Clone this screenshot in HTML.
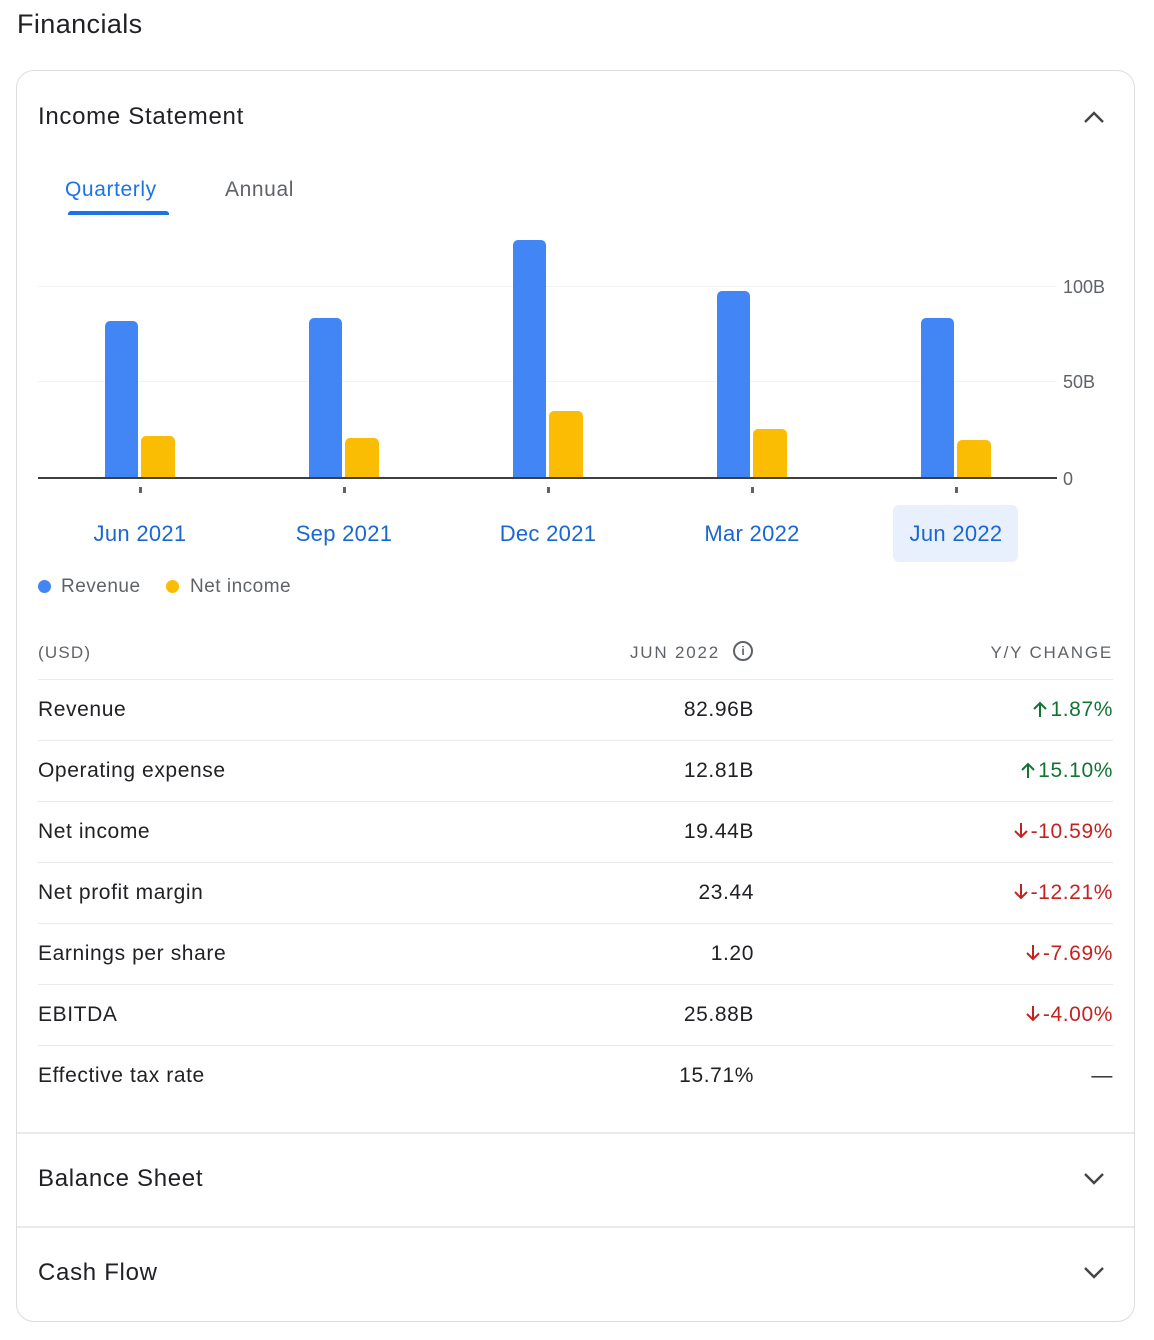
<!DOCTYPE html>
<html><head><style>
body{margin:0;width:1154px;height:1340px;background:#fff;font-family:"Liberation Sans",sans-serif;position:relative;overflow:hidden}
.a{position:absolute;white-space:nowrap}
.bar{position:absolute;border-radius:5px 5px 0 0}
.b{background:#4285f4;width:33px}
.y{background:#fbbc04;width:34px}
.xl{position:absolute;top:520px;width:160px;text-align:center;font-size:22px;color:#1967d2;line-height:28px;letter-spacing:0.3px}
.tk{position:absolute;top:487px;width:3px;height:6px;background:#5f6368}
.row{position:absolute;left:38px;width:1075px;height:61px;border-top:1px solid #e8eaed;font-size:21px;color:#202124;letter-spacing:0.6px}
.row .l{position:absolute;left:0;top:18px}
.row .v{position:absolute;right:359px;top:18px}
.row .c{position:absolute;right:0;top:18px}
.g{color:#137333}.r{color:#c5221f}
.c svg{vertical-align:-2px;margin-right:2px}
</style></head><body>
<div class="a" style="left:17px;top:9px;font-size:27px;color:#202124;letter-spacing:0.4px">Financials</div>
<div class="a" style="left:16px;top:70px;width:1117px;height:1250px;border:1px solid #dadce0;border-radius:18px"></div>
<div class="a" style="left:38px;top:103px;font-size:24px;color:#202124;letter-spacing:0.7px">Income Statement</div>
<svg class="a" style="left:1082px;top:108px" width="24" height="18"><path d="M3 14 L12 5 L21 14" fill="none" stroke="#444" stroke-width="2.4"/></svg>
<div class="a" style="left:65px;top:178px;font-size:21px;color:#1a73e8;letter-spacing:0.6px">Quarterly</div>
<div class="a" style="left:68px;top:211px;width:101px;height:4px;background:#1a73e8;border-radius:3px 3px 0 0"></div>
<div class="a" style="left:225px;top:178px;font-size:21px;color:#5f6368;letter-spacing:0.6px">Annual</div>
<div class="a" style="left:38px;top:286px;width:1019px;height:1px;background:#f1f3f4"></div>
<div class="a" style="left:38px;top:381px;width:1019px;height:1px;background:#f1f3f4"></div>
<div class="a" style="left:38px;top:477px;width:1019px;height:2px;background:#3c4043"></div>
<div class="a" style="left:1063px;top:277px;font-size:18px;color:#5f6368">100B</div>
<div class="a" style="left:1063px;top:372px;font-size:18px;color:#5f6368">50B</div>
<div class="a" style="left:1063px;top:469px;font-size:18px;color:#5f6368">0</div>
<div class="bar b" style="left:105px;top:321px;height:156px"></div><div class="bar y" style="left:141px;top:436px;height:41px"></div>
<div class="bar b" style="left:309px;top:318px;height:159px"></div><div class="bar y" style="left:345px;top:438px;height:39px"></div>
<div class="bar b" style="left:513px;top:240px;height:237px"></div><div class="bar y" style="left:549px;top:411px;height:66px"></div>
<div class="bar b" style="left:717px;top:291px;height:186px"></div><div class="bar y" style="left:753px;top:429px;height:48px"></div>
<div class="bar b" style="left:921px;top:318px;height:159px"></div><div class="bar y" style="left:957px;top:440px;height:37px"></div>
<div class="tk" style="left:139px"></div><div class="tk" style="left:343px"></div><div class="tk" style="left:547px"></div><div class="tk" style="left:751px"></div><div class="tk" style="left:955px"></div>
<div class="a" style="left:893px;top:505px;width:125px;height:57px;background:#e8f0fe;border-radius:6px"></div>
<div class="xl" style="left:60px">Jun 2021</div><div class="xl" style="left:264px">Sep 2021</div><div class="xl" style="left:468px">Dec 2021</div><div class="xl" style="left:672px">Mar 2022</div><div class="xl" style="left:876px">Jun 2022</div>
<div class="a" style="left:38px;top:580px;width:13px;height:13px;border-radius:50%;background:#4285f4"></div>
<div class="a" style="left:61px;top:576px;font-size:19px;color:#5f6368;letter-spacing:0.5px">Revenue</div>
<div class="a" style="left:166px;top:580px;width:13px;height:13px;border-radius:50%;background:#fbbc04"></div>
<div class="a" style="left:190px;top:576px;font-size:19px;color:#5f6368;letter-spacing:0.5px">Net income</div>
<div class="a" style="left:38px;top:643px;font-size:17px;color:#5f6368;letter-spacing:1.2px">(USD)</div>
<div class="a" style="left:630px;top:643px;font-size:17px;color:#5f6368;letter-spacing:1.8px">JUN 2022</div>
<div class="a" style="left:733px;top:641px;width:16px;height:16px;border:2px solid #5f6368;border-radius:50%;font-size:12px;line-height:16px;text-align:center;color:#5f6368;font-weight:bold">i</div>
<div class="a" style="right:41px;top:643px;font-size:17px;color:#5f6368;letter-spacing:1.8px">Y/Y CHANGE</div>
<div class="row" style="top:679px"><span class="l">Revenue</span><span class="v">82.96B</span><span class="c g"><svg width="16" height="18"><path d="M8 17V3M2 9L8 3L14 9" fill="none" stroke="#137333" stroke-width="2"/></svg>1.87%</span></div>
<div class="row" style="top:740px"><span class="l">Operating expense</span><span class="v">12.81B</span><span class="c g"><svg width="16" height="18"><path d="M8 17V3M2 9L8 3L14 9" fill="none" stroke="#137333" stroke-width="2"/></svg>15.10%</span></div>
<div class="row" style="top:801px"><span class="l">Net income</span><span class="v">19.44B</span><span class="c r"><svg width="16" height="18"><path d="M8 1V15M2 9L8 15L14 9" fill="none" stroke="#c5221f" stroke-width="2"/></svg>-10.59%</span></div>
<div class="row" style="top:862px"><span class="l">Net profit margin</span><span class="v">23.44</span><span class="c r"><svg width="16" height="18"><path d="M8 1V15M2 9L8 15L14 9" fill="none" stroke="#c5221f" stroke-width="2"/></svg>-12.21%</span></div>
<div class="row" style="top:923px"><span class="l">Earnings per share</span><span class="v">1.20</span><span class="c r"><svg width="16" height="18"><path d="M8 1V15M2 9L8 15L14 9" fill="none" stroke="#c5221f" stroke-width="2"/></svg>-7.69%</span></div>
<div class="row" style="top:984px"><span class="l">EBITDA</span><span class="v">25.88B</span><span class="c r"><svg width="16" height="18"><path d="M8 1V15M2 9L8 15L14 9" fill="none" stroke="#c5221f" stroke-width="2"/></svg>-4.00%</span></div>
<div class="row" style="top:1045px"><span class="l">Effective tax rate</span><span class="v">15.71%</span><span class="c">—</span></div>
<div class="a" style="left:17px;top:1132px;width:1117px;height:2px;background:#e8eaed"></div>
<div class="a" style="left:38px;top:1165px;font-size:24px;color:#202124;letter-spacing:0.7px">Balance Sheet</div>
<svg class="a" style="left:1082px;top:1170px" width="24" height="18"><path d="M3 4 L12 13 L21 4" fill="none" stroke="#444" stroke-width="2.4"/></svg>
<div class="a" style="left:17px;top:1226px;width:1117px;height:2px;background:#e8eaed"></div>
<div class="a" style="left:38px;top:1259px;font-size:24px;color:#202124;letter-spacing:0.7px">Cash Flow</div>
<svg class="a" style="left:1082px;top:1264px" width="24" height="18"><path d="M3 4 L12 13 L21 4" fill="none" stroke="#444" stroke-width="2.4"/></svg>
</body></html>
